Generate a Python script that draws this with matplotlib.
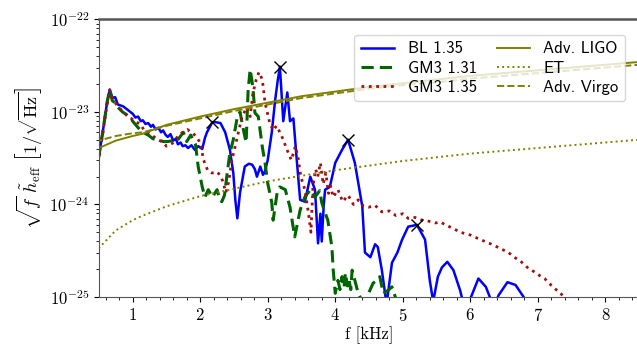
import numpy as np
import matplotlib
matplotlib.use("Agg")
import matplotlib.pyplot as plt
from matplotlib.ticker import MultipleLocator, NullFormatter
from matplotlib.font_manager import FontProperties

plt.rcParams['font.family'] = 'serif'
plt.rcParams['font.serif'] = ['cmr10', 'DejaVu Serif']
plt.rcParams['mathtext.fontset'] = 'cm'
plt.rcParams['axes.unicode_minus'] = False
plt.rcParams['axes.formatter.use_mathtext'] = True

# frequencies in kHz, amplitudes as log10 of sqrt(f)*h_eff
f_bl = [0.49, 0.56, 0.62, 0.66, 0.70, 0.74, 0.78, 0.86, 0.93, 1.00, 1.04, 1.08, 1.12,
        1.15, 1.19, 1.23, 1.27, 1.30, 1.34, 1.38, 1.42, 1.45, 1.49, 1.52, 1.56, 1.60,
        1.64, 1.67, 1.71, 1.74, 1.78, 1.82, 1.87, 1.92, 1.97, 2.03, 2.07, 2.10, 2.18,
        2.22, 2.30, 2.37, 2.44, 2.49, 2.52, 2.55, 2.59, 2.66, 2.72, 2.77, 2.81, 2.84,
        2.89, 2.93, 2.96, 3.00, 3.06, 3.11, 3.15, 3.18, 3.23, 3.29, 3.33, 3.38, 3.43,
        3.48, 3.55, 3.63, 3.70, 3.745, 3.78, 3.80, 3.83, 3.85, 3.92, 4.00, 4.10, 4.19,
        4.29, 4.40, 4.44, 4.52, 4.59, 4.63, 4.69, 4.76, 4.84, 4.92, 4.99, 5.08, 5.21,
        5.33, 5.40, 5.45, 5.52, 5.58, 5.66, 5.75, 5.85, 5.90, 5.95, 6.00, 6.12, 6.23,
        6.30, 6.36, 6.42, 6.55, 6.67, 6.79, 6.85]
logh_bl = [-23.52, -23.20, -22.90, -22.76, -22.85, -22.84, -22.92, -22.94, -22.98, -23.02,
           -23.06, -23.05, -23.10, -23.09, -23.13, -23.12, -23.16, -23.14, -23.19, -23.17,
           -23.22, -23.20, -23.25, -23.27, -23.24, -23.31, -23.29, -23.35, -23.33, -23.37,
           -23.36, -23.39, -23.36, -23.41, -23.37, -23.40, -23.28, -23.22, -23.11, -23.11,
           -23.12, -23.22, -23.41, -23.66, -23.95, -24.15, -23.87, -23.59, -23.56, -23.57,
           -23.62, -23.70, -23.59, -23.68, -23.64, -23.52, -23.22, -22.87, -22.65, -22.51,
           -23.10, -22.79, -23.10, -23.07, -23.52, -23.95, -23.97, -23.70, -23.84, -24.42,
           -24.10, -24.40, -24.00, -23.84, -23.81, -23.55, -23.41, -23.30, -23.55, -24.02,
           -24.52, -24.57, -24.43, -24.46, -24.71, -25.08, -24.63, -24.52, -24.38, -24.24,
           -24.22, -24.38, -24.82, -25.05, -24.78, -24.68, -24.62, -24.71, -24.93, -25.08,
           -25.15, -25.02, -24.80, -24.89, -25.02, -25.08, -24.98, -24.84, -24.87, -25.00,
           -25.10]

f_gm31 = [0.49, 0.56, 0.62, 0.66, 0.70, 0.74, 0.78, 0.85, 0.93, 1.00, 1.08, 1.15, 1.23,
          1.30, 1.38, 1.45, 1.52, 1.59, 1.65, 1.70, 1.75, 1.80, 1.86, 1.93, 1.97, 2.03,
          2.07, 2.12, 2.18, 2.25, 2.29, 2.32, 2.36, 2.40, 2.44, 2.49, 2.55, 2.59, 2.63,
          2.68, 2.71, 2.74, 2.78, 2.81, 2.86, 2.92, 2.96, 3.00, 3.06, 3.08, 3.14, 3.18,
          3.26, 3.33, 3.40, 3.48, 3.55, 3.63, 3.70, 3.77, 3.80, 3.85, 3.89, 3.95, 3.97,
          4.00, 4.04, 4.07, 4.10, 4.13, 4.15, 4.18, 4.20, 4.23, 4.25, 4.29, 4.34, 4.40,
          4.44, 4.50, 4.56, 4.62, 4.66, 4.71, 4.78, 4.84, 4.89, 4.96]
logh_gm31 = [-23.52, -23.20, -22.90, -22.76, -22.88, -22.90, -22.95, -23.00, -23.04, -23.10,
             -23.17, -23.22, -23.25, -23.29, -23.30, -23.32, -23.32, -23.31, -23.32, -23.27,
             -23.22, -23.32, -23.25, -23.35, -23.59, -23.81, -23.92, -23.84, -23.92, -23.84,
             -23.95, -23.97, -23.90, -23.66, -23.44, -23.30, -23.05, -23.00, -23.16, -23.33,
             -22.76, -22.54, -22.73, -23.01, -23.05, -23.38, -23.55, -23.77, -23.98, -24.17,
             -23.87, -23.81, -23.84, -24.03, -24.35, -24.06, -23.92, -23.84, -23.92, -23.85,
             -23.98, -24.09, -24.17, -24.46, -24.71, -24.96, -24.82, -24.92, -24.78, -24.90,
             -24.74, -24.88, -24.80, -24.92, -24.71, -24.82, -24.96, -25.05, -25.03, -24.95,
             -24.85, -24.82, -24.78, -24.96, -24.93, -24.89, -25.00, -25.20]

f_gm35 = [0.49, 0.56, 0.62, 0.66, 0.70, 0.74, 0.78, 0.86, 0.93, 1.00, 1.06, 1.12, 1.18,
          1.24, 1.30, 1.37, 1.43, 1.50, 1.56, 1.61, 1.67, 1.72, 1.81, 1.87, 1.92, 2.00,
          2.05, 2.11, 2.17, 2.26, 2.33, 2.38, 2.42, 2.47, 2.55, 2.62, 2.69, 2.74, 2.78,
          2.83, 2.87, 2.92, 2.96, 3.03, 3.08, 3.13, 3.18, 3.23, 3.28, 3.35, 3.41, 3.45,
          3.49, 3.55, 3.60, 3.64, 3.67, 3.71, 3.74, 3.78, 3.82, 3.86, 3.90, 3.93, 3.97,
          4.04, 4.11, 4.19, 4.27, 4.34, 4.42, 4.49, 4.59, 4.69, 4.80, 4.90, 5.00, 5.08,
          5.18, 5.29, 5.38, 5.48, 5.56, 5.63, 5.75, 5.85, 6.00, 6.12, 6.25, 6.35, 6.45,
          6.55, 6.65, 6.74, 6.86, 6.93, 7.03, 7.10, 7.18, 7.25, 7.33, 7.40, 7.45]
logh_gm35 = [-23.55, -23.22, -22.92, -22.76, -22.87, -22.90, -22.94, -23.00, -23.05, -23.08,
             -23.11, -23.14, -23.21, -23.23, -23.26, -23.30, -23.32, -23.37, -23.35, -23.33,
             -23.26, -23.23, -23.19, -23.22, -23.25, -23.33, -23.52, -23.63, -23.66, -23.65,
             -23.74, -23.87, -23.76, -23.52, -23.27, -23.05, -22.95, -23.05, -22.80, -22.65,
             -22.57, -22.65, -22.90, -23.12, -23.20, -23.15, -23.22, -23.30, -23.40, -23.52,
             -23.37, -23.50, -23.70, -23.84, -24.08, -24.30, -23.80, -23.62, -23.70, -23.55,
             -23.78, -23.66, -23.88, -23.80, -23.92, -23.84, -23.97, -23.90, -24.00, -23.95,
             -24.02, -24.03, -24.01, -24.08, -24.07, -24.12, -24.10, -24.15, -24.14, -24.17,
             -24.18, -24.20, -24.19, -24.22, -24.26, -24.30, -24.33, -24.37, -24.41, -24.44,
             -24.48, -24.51, -24.57, -24.61, -24.69, -24.72, -24.77, -24.80, -24.86, -24.91,
             -24.95, -25.02, -25.10]

# peaks of the BL 1.35 spectrum
f_peaks = [2.18, 3.18, 4.19, 5.21]
logh_peaks = [-23.11, -22.51, -23.30, -24.22]

# detector sensitivity curves
f_det = [0.45, 0.5, 0.75, 1.0, 1.15, 1.5, 2.0, 2.5, 3.0, 3.5, 4.0, 4.5, 5.0, 5.5, 6.0,
         6.5, 7.0, 7.5, 8.0, 8.5, 8.6]
logh_ligo = [-23.43, -23.39, -23.31, -23.26, -23.235, -23.14, -23.05, -22.97, -22.90, -22.83,
             -22.78, -22.73, -22.69, -22.65, -22.61, -22.58, -22.55, -22.52, -22.49, -22.46,
             -22.455]
logh_et = [-24.52, -24.47, -24.28, -24.17, -24.12, -24.02, -23.91, -23.83, -23.75, -23.69,
           -23.63, -23.58, -23.53, -23.49, -23.45, -23.42, -23.39, -23.36, -23.33, -23.30,
           -23.295]
logh_virgo = [-23.34, -23.31, -23.26, -23.23, -23.22, -23.15, -23.07, -22.99, -22.92, -22.85,
              -22.80, -22.75, -22.71, -22.68, -22.64, -22.61, -22.58, -22.55, -22.52, -22.49,
              -22.485]

fig = plt.figure(figsize=(6.37, 3.44), dpi=100)
ax = fig.add_axes([0.1553, 0.1366, 0.848, 0.807])

ax.plot(f_bl, 10 ** np.array(logh_bl), color='blue', lw=1.8, label='BL 1.35')
ax.plot(f_gm31, 10 ** np.array(logh_gm31), color='darkgreen', lw=2.2, ls='--',
        dashes=(4, 2), label='GM3 1.31')
ax.plot(f_gm35, 10 ** np.array(logh_gm35), color='#a01010', lw=2.0, ls=':',
        label='GM3 1.35')
ax.plot(f_det, 10 ** np.array(logh_ligo), color='olive', lw=1.4, label='Adv. LIGO')
ax.plot(f_det, 10 ** np.array(logh_et), color='olive', lw=1.4, ls=':', label='ET')
ax.plot(f_det, 10 ** np.array(logh_virgo), color='olive', lw=1.4, ls='--', label='Adv. Virgo')
ax.plot(f_peaks, 10 ** np.array(logh_peaks), ls='none', marker='x', ms=9, mew=1.0,
        color='black')

ax.set_yscale('log')
ax.set_xlim(0.5, 8.5)
ax.set_ylim(1e-25, 1e-22)
ax.xaxis.set_major_locator(MultipleLocator(1))
ax.xaxis.set_minor_locator(MultipleLocator(0.2))
ax.yaxis.set_minor_formatter(NullFormatter())
ax.tick_params(labelsize=12)
for s in ax.spines.values():
    s.set_color('#555555')
ax.spines['top'].set_linewidth(1.8)

ax.set_xlabel('f [kHz]', fontsize=12, labelpad=2)
ax.set_ylabel(r'$\sqrt{f}\;\tilde{h}_{\rm eff}\ \left[1/\sqrt{\rm Hz}\right]$', fontsize=13)

leg = ax.legend(ncol=2, loc='upper right', bbox_to_anchor=(0.99, 0.975),
                prop=FontProperties(family='cmss10', size=12), handlelength=2.0,
                columnspacing=1.2, borderpad=0.4, labelspacing=0.25, handletextpad=0.8)

fig.savefig('out.png', dpi=100)
